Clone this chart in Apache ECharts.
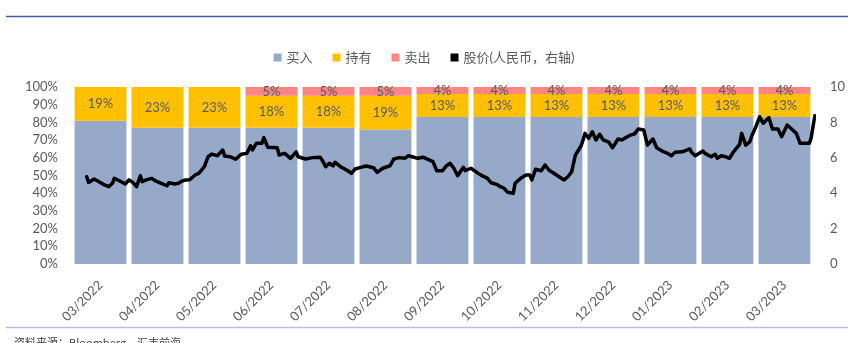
<!DOCTYPE html>
<html><head><meta charset="utf-8">
<script src="https://cdn.jsdelivr.net/npm/echarts@6/dist/echarts.min.js"></script>
<style>html,body{margin:0;padding:0;background:#fff}#c{width:848px;height:343px}</style>
</head><body><div id="c"></div>
<script>
const categories = ['03/2022','04/2022','05/2022','06/2022','07/2022','08/2022','09/2022','10/2022','11/2022','12/2022','01/2023','02/2023','03/2023'];
const buyPct  = [81,77,77,77,77,76,83,83,83,83,83,83,83];
const holdPct = [19,23,23,18,18,19,13,13,13,13,13,13,13];
const sellPct = [0,0,0,5,5,5,4,4,4,4,4,4,4];
const leftTicks = [0,10,20,30,40,50,60,70,80,90,100];
const rightTicks = [0,2,4,6,8,10];

const priceDates = ['2022-03-09','2022-03-10','2022-03-13','2022-03-15','2022-03-18','2022-03-21','2022-03-23','2022-03-24','2022-03-27','2022-03-30',
'2022-04-01','2022-04-03','2022-04-05','2022-04-07','2022-04-08','2022-04-10','2022-04-13','2022-04-15','2022-04-18','2022-04-21','2022-04-22','2022-04-25','2022-04-27','2022-04-29',
'2022-05-01','2022-05-03','2022-05-06','2022-05-08','2022-05-11','2022-05-13','2022-05-15','2022-05-18','2022-05-21','2022-05-22','2022-05-25','2022-05-28','2022-05-31',
'2022-06-03','2022-06-05','2022-06-06','2022-06-08','2022-06-11','2022-06-12','2022-06-14','2022-06-19','2022-06-20','2022-06-23','2022-06-26','2022-06-29','2022-06-30',
'2022-07-04','2022-07-08','2022-07-12','2022-07-13','2022-07-15','2022-07-17','2022-07-19','2022-07-20','2022-07-23','2022-07-27','2022-07-29','2022-07-31',
'2022-08-03','2022-08-06','2022-08-10','2022-08-12','2022-08-15','2022-08-19','2022-08-21','2022-08-24','2022-08-27','2022-08-29','2022-08-30','2022-08-31',
'2022-09-03','2022-09-06','2022-09-08','2022-09-11','2022-09-13','2022-09-16','2022-09-18','2022-09-20','2022-09-22','2022-09-24','2022-09-27','2022-09-28',
'2022-10-01','2022-10-05','2022-10-07','2022-10-10','2022-10-12','2022-10-15','2022-10-17','2022-10-19','2022-10-21','2022-10-24','2022-10-25','2022-10-28','2022-10-31',
'2022-11-02','2022-11-03','2022-11-05','2022-11-08','2022-11-10','2022-11-12','2022-11-16','2022-11-20','2022-11-22','2022-11-24','2022-11-26','2022-11-29','2022-11-30',
'2022-12-01','2022-12-03','2022-12-05','2022-12-07','2022-12-09','2022-12-11','2022-12-14','2022-12-16','2022-12-19','2022-12-21','2022-12-25','2022-12-28','2022-12-30','2022-12-31',
'2023-01-02','2023-01-04','2023-01-07','2023-01-09','2023-01-12','2023-01-15','2023-01-17','2023-01-19','2023-01-23','2023-01-27','2023-01-28','2023-01-30','2023-01-31',
'2023-02-03','2023-02-04','2023-02-07','2023-02-09','2023-02-10','2023-02-12','2023-02-14','2023-02-16','2023-02-18','2023-02-21','2023-02-22','2023-02-24','2023-02-26','2023-02-27',
'2023-03-01','2023-03-03','2023-03-05','2023-03-08','2023-03-10','2023-03-13','2023-03-15','2023-03-18','2023-03-21','2023-03-23','2023-03-25','2023-03-30','2023-03-31','2023-04-02'];
const prices = [4.93,4.61,4.80,4.69,4.50,4.37,4.56,4.84,4.69,4.52,
4.75,4.61,4.37,4.99,4.65,4.75,4.84,4.69,4.56,4.42,4.59,4.52,4.56,4.69,
4.75,4.76,5.03,5.12,5.50,6.06,6.21,6.12,6.44,6.10,6.06,5.92,6.20,
6.25,6.68,6.44,6.82,6.82,7.14,6.60,6.57,6.16,6.25,5.97,6.34,6.06,
5.93,6.01,6.03,5.88,5.50,5.69,5.54,5.75,5.50,5.27,5.12,5.37,
5.46,5.54,5.44,5.18,5.41,5.55,5.93,6.01,5.97,6.12,6.16,6.06,
5.97,6.03,5.93,5.78,5.27,5.27,5.54,5.69,5.41,4.99,5.46,5.27,
5.41,5.12,4.99,4.84,4.59,4.50,4.37,4.28,4.05,3.99,4.56,4.84,5.03,
5.03,4.75,5.35,5.27,5.59,5.31,5.03,4.75,4.93,5.21,6.16,6.68,7.01,
7.38,7.10,7.47,7.01,7.33,7.01,6.88,6.57,7.06,7.01,7.25,7.35,7.63,7.70,
7.57,6.72,7.06,6.57,6.38,6.25,6.12,6.31,6.34,6.50,6.31,6.12,6.12,
6.38,6.25,6.06,6.20,5.97,6.12,6.06,5.97,6.34,6.76,7.38,6.72,6.91,7.25,
7.76,8.32,7.95,8.27,7.63,7.63,7.19,7.85,7.57,7.38,6.82,6.82,7.10,8.38];

function toMonthPos(s){
  const [y,m,d] = s.split('-').map(Number);
  const days = new Date(y, m, 0).getDate();
  return (y-2022)*12 + (m-3) + (d-1)/days;
}
const lineData = priceDates.map((d,i)=>[toMonthPos(d), prices[i]]);

const FONT = 'Lato, "Noto Sans CJK SC", sans-serif';
const GRAY = '#595959';
const chart = echarts.init(document.getElementById('c'), null, {renderer:'canvas'});
chart.setOption({
  animation:false,
  textStyle:{fontFamily:FONT},
  legend:{
    top:46, left:'center', itemWidth:8, itemHeight:8, itemGap:20,
    icon:'rect',
    textStyle:{color:GRAY, fontSize:13, fontFamily:FONT},
    data:[{name:'买入',icon:'rect'},{name:'持有',icon:'rect'},{name:'卖出',icon:'rect'},{name:'股价(人民币，右轴)',icon:'rect',itemStyle:{color:'#000'}}]
  },
  grid:{left:72, right:33.5, top:87, bottom:79, containLabel:false},
  xAxis:[{
    type:'category', data:categories,
    axisLine:{show:false}, axisTick:{show:false},
    axisLabel:{rotate:45, color:GRAY, fontSize:13, margin:19, fontFamily:FONT}
  },{
    type:'value', min:0, max:13, show:false
  }],
  yAxis:[{
    type:'value', min:0, max:100, interval:10,
    splitLine:{show:false}, axisLine:{show:false}, axisTick:{show:false},
    axisLabel:{color:GRAY, fontSize:13, margin:14, formatter:v=>v+'%', fontFamily:FONT}
  },{
    type:'value', min:0, max:10, interval:2, position:'right',
    splitLine:{show:false}, axisLine:{show:false}, axisTick:{show:false},
    axisLabel:{color:GRAY, fontSize:13, margin:17, fontFamily:FONT}
  }],
  series:[
    {name:'买入', type:'bar', stack:'s', data:buyPct, barCategoryGap:'9%', itemStyle:{color:'#97A9C9'}},
    {name:'持有', type:'bar', stack:'s', data:holdPct, itemStyle:{color:'#FFC000'},
      label:{show:true, position:'inside', color:GRAY, fontSize:13, fontFamily:FONT, formatter:p=>p.value+'%'}},
    {name:'卖出', type:'bar', stack:'s', data:sellPct, itemStyle:{color:'#FF8585'},
      label:{show:true, position:'inside', color:GRAY, fontSize:13, fontFamily:FONT, formatter:p=>p.value>0?p.value+'%':''}},
    {name:'股价(人民币，右轴)', type:'line', xAxisIndex:1, yAxisIndex:1, data:lineData, showSymbol:false, symbol:'none',
      clip:false, lineStyle:{color:'#000', width:3.5, join:'round', cap:'round'}, itemStyle:{color:'#000'}, z:5}
  ],
  graphic:[
    {type:'line', shape:{x1:6,y1:16.5,x2:848,y2:16.5}, style:{stroke:'#3E5E9E', lineWidth:1.5}},
    {type:'line', shape:{x1:6,y1:327.5,x2:848,y2:327.5}, style:{stroke:'#B4BFDA', lineWidth:1.5}},
    {type:'text', left:14, top:337, style:{text:'资料来源：Bloomberg，汇丰前海', fill:'#404040', font:'11px "Noto Sans CJK SC"'}}
  ]
});
</script></body></html>
